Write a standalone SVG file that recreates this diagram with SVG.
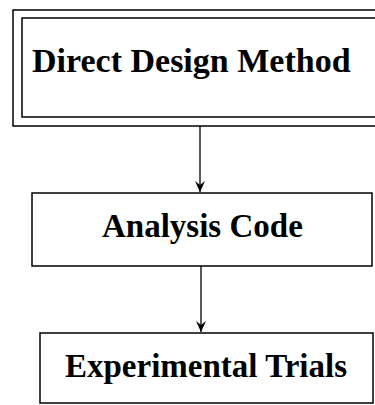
<svg xmlns="http://www.w3.org/2000/svg" width="375" height="405" viewBox="0 0 375 405">
<defs>
<style>
.box{fill:none;stroke:#000;stroke-width:1.5}
.lbl{font-family:"Liberation Serif","Times New Roman",serif;font-weight:bold;font-size:33px;fill:#000}
.conn{stroke:#000;stroke-width:1.3;fill:none}
</style>
<marker id="ah" markerWidth="11" markerHeight="10" refX="11" refY="5" orient="auto" markerUnits="userSpaceOnUse" viewBox="0 0 11 10">
<path d="M0,0 L4,5 L0,10 L11,5 Z" fill="#000"/>
</marker>
</defs>
<rect width="375" height="405" fill="#fff"/>
<g id="node-direct-design">
<rect class="box" x="13" y="10" width="370" height="116"/>
<rect class="box" x="22" y="18" width="360" height="99"/>
<text class="lbl" x="32" y="72" style="font-size:34px">Direct Design Method</text>
</g>
<g id="node-analysis-code">
<rect class="box" x="32" y="193" width="340" height="73"/>
<text class="lbl" x="102" y="237">Analysis Code</text>
</g>
<g id="node-experimental-trials">
<rect class="box" x="40" y="333" width="333" height="70"/>
<text class="lbl" x="65" y="377">Experimental Trials</text>
</g>
<g id="connectors">
<line class="conn" x1="200" y1="126" x2="200" y2="192" marker-end="url(#ah)"/>
<line class="conn" x1="201" y1="266" x2="201" y2="332" marker-end="url(#ah)"/>
</g>
</svg>
